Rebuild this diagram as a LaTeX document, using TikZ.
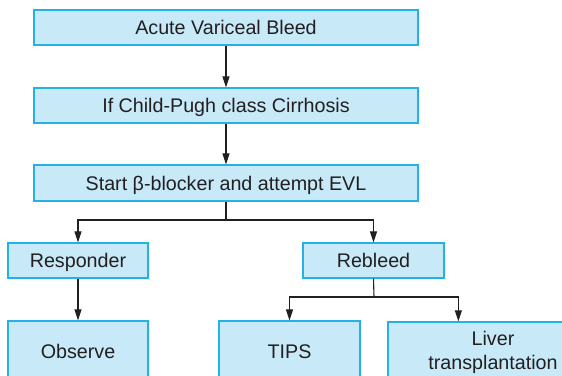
\documentclass[tikz,border=0pt]{standalone}
\usepackage{fontspec}
\setmainfont{Liberation Sans}
\usetikzlibrary{arrows.meta}
\definecolor{boxfill}{RGB}{199,233,248}
\definecolor{boxline}{RGB}{38,177,230}
\definecolor{ink}{RGB}{35,31,32}
\tikzset{
  flowbox/.style={draw=boxline, fill=boxfill, line width=1.3pt, rectangle,
    inner sep=0pt, text=ink, font=\fontsize{19.7}{24}\selectfont,
    text height=14pt, text depth=0pt},
  multibox/.style={draw=boxline, fill=boxfill, line width=1.3pt, rectangle,
    inner sep=0pt, text=ink, font=\fontsize{19.7}{24}\selectfont, align=center},
  arr/.style={draw=ink, line width=1.1pt, -{Triangle[length=11pt,width=7pt]}},
  link/.style={draw=ink, line width=1.1pt}
}
\begin{document}
\begin{tikzpicture}[x=1pt,y=-1pt]
\useasboundingbox (0,0) rectangle (562,375);
\clip (0,0) rectangle (562,375);
\node[flowbox, minimum width=384pt, minimum height=35pt] (b1) at (226,27.5) {Acute Variceal Bleed};
\node[flowbox, minimum width=384pt, minimum height=35pt] (b2) at (226,105.5) {If Child-Pugh class Cirrhosis};
\node[flowbox, minimum width=384pt, minimum height=36pt] (b3) at (226,183) {Start β-blocker and attempt EVL};
\node[flowbox, minimum width=140pt, minimum height=35pt] (resp) at (78,260.5) {Responder};
\node[flowbox, minimum width=141pt, minimum height=35pt] (rebl) at (373.5,260.5) {Rebleed};
\node[flowbox, minimum width=140pt, minimum height=60pt] (obs) at (78,351) {Observe};
\node[flowbox, minimum width=141pt, minimum height=60pt] (tips) at (289.5,351) {TIPS};
\node[multibox, minimum width=210pt, minimum height=60pt] (liver) at (493,352) {Liver\\transplantation};
\coordinate (j1) at (226,220);
\coordinate (j2) at (374,297);
\coordinate (lt) at ([xshift=71pt]liver.north west);
\draw[arr] (b1) -- (b2);
\draw[arr] (b2) -- (b3);
\draw[link] (b3.south) -- (j1);
\draw[arr] (j1) -| (resp);
\draw[arr] (j1) -| (rebl);
\draw[arr] (resp) -- (obs);
\draw[link] (rebl.south) -- (j2);
\draw[arr] (j2) -| (tips);
\draw[arr] (j2) -| (lt);
\end{tikzpicture}
\end{document}
